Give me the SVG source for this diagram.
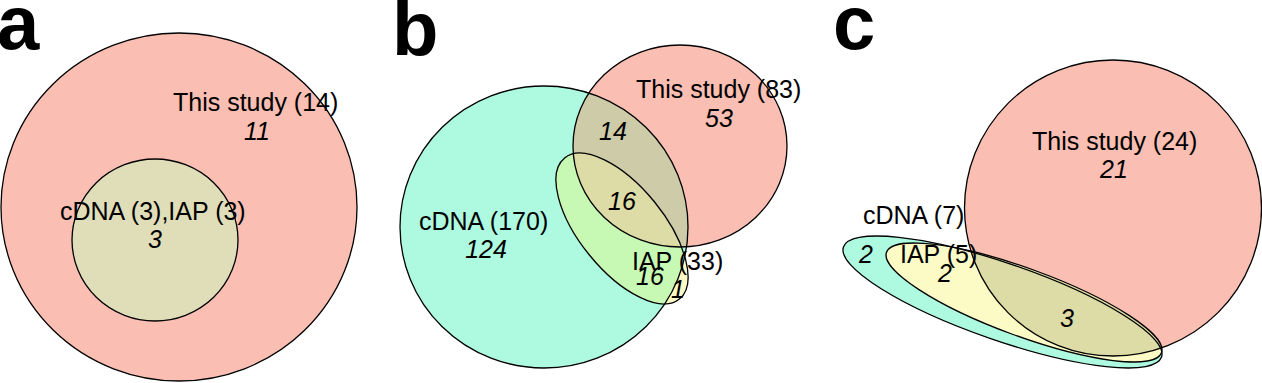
<svg xmlns="http://www.w3.org/2000/svg" width="1262" height="383" viewBox="0 0 1262 383">
<style>
  .lbl{font-family:"Liberation Sans",Arial,sans-serif;font-size:25px;fill:#000}
  .num{font-family:"Liberation Sans",Arial,sans-serif;font-size:25px;font-style:italic;fill:#000}
  .panel{font-family:"Liberation Sans",Arial,sans-serif;font-size:76px;font-weight:bold;fill:#000}
  .edge{fill:none;stroke:#000;stroke-width:1.3}
</style>
<defs>
  <clipPath id="cCyanB"><ellipse cx="544" cy="227" rx="144" ry="141"/></clipPath>
  <clipPath id="cPinkB"><ellipse cx="680" cy="146" rx="107" ry="101"/></clipPath>
  <clipPath id="cIapB"><ellipse cx="622" cy="228.5" rx="91" ry="42" transform="rotate(50.9 622 228.5)"/></clipPath>
  <clipPath id="cPinkC"><ellipse cx="1113" cy="208" rx="148.5" ry="148"/></clipPath>
  <clipPath id="cCyanC"><ellipse cx="1002.5" cy="302" rx="168.3" ry="38.5" transform="rotate(19.1 1002.5 302)"/></clipPath>
  <clipPath id="cYelC"><ellipse cx="1024" cy="302.5" rx="146.4" ry="33.8" transform="rotate(20.1 1024 302.5)"/></clipPath>
</defs>
<rect width="1262" height="383" fill="#fff"/>

<!-- Panel a -->
<g id="panel-a">
  <text class="panel" x="-3" y="49">a</text>
  <g id="a-study">
    <ellipse cx="179" cy="207" rx="178" ry="174" fill="#FABEB2" class="edge" style="fill:#FABEB2"/>
  </g>
  <g id="a-cdna-iap">
    <ellipse cx="155" cy="240" rx="83" ry="81" style="fill:#DFDEB8;stroke:#000;stroke-width:1.3"/>
  </g>
  <text class="lbl" x="173" y="111">This study (14)</text>
  <text class="num" x="257" y="140" text-anchor="middle">11</text>
  <text class="lbl" x="60" y="220">cDNA (3),IAP (3)</text>
  <text class="num" x="155" y="248" text-anchor="middle">3</text>
</g>

<!-- Panel b -->
<g id="panel-b">
  <text class="panel" x="392" y="55">b</text>
  <g id="b-fills">
    <ellipse cx="544" cy="227" rx="144" ry="141" fill="#AEFAE0"/>
    <ellipse cx="680" cy="146" rx="107" ry="101" fill="#FABEB2"/>
    <ellipse cx="622" cy="228.5" rx="91" ry="42" transform="rotate(50.9 622 228.5)" fill="#FCFAC4"/>
    <g clip-path="url(#cCyanB)">
      <ellipse cx="680" cy="146" rx="107" ry="101" fill="#CDCBA8"/>
      <ellipse cx="622" cy="228.5" rx="91" ry="42" transform="rotate(50.9 622 228.5)" fill="#C8F9B4"/>
    </g>
    <g clip-path="url(#cPinkB)">
      <ellipse cx="622" cy="228.5" rx="91" ry="42" transform="rotate(50.9 622 228.5)" fill="#F4DDB8"/>
    </g>
    <g clip-path="url(#cCyanB)">
      <g clip-path="url(#cPinkB)">
        <ellipse cx="622" cy="228.5" rx="91" ry="42" transform="rotate(50.9 622 228.5)" fill="#DDDBA6"/>
      </g>
    </g>
  </g>
  <g id="b-cdna"><ellipse class="edge" cx="544" cy="227" rx="144" ry="141"/></g>
  <g id="b-study"><ellipse class="edge" cx="680" cy="146" rx="107" ry="101"/></g>
  <g id="b-iap"><ellipse class="edge" cx="622" cy="228.5" rx="91" ry="42" transform="rotate(50.9 622 228.5)"/></g>
  <text class="lbl" x="636" y="98">This study (83)</text>
  <text class="num" x="719" y="127" text-anchor="middle">53</text>
  <text class="num" x="613" y="140" text-anchor="middle">14</text>
  <text class="num" x="622" y="210" text-anchor="middle">16</text>
  <text class="lbl" x="419" y="230">cDNA (170)</text>
  <text class="num" x="486" y="258" text-anchor="middle">124</text>
  <text class="lbl" x="632" y="270">IAP (33)</text>
  <text class="num" x="650" y="285" text-anchor="middle">16</text>
  <text class="num" x="678" y="298" text-anchor="middle">1</text>
</g>

<!-- Panel c -->
<g id="panel-c">
  <text class="panel" x="833" y="49">c</text>
  <g id="c-fills">
    <ellipse cx="1113" cy="208" rx="148.5" ry="148" fill="#FABEB2"/>
    <ellipse cx="1002.5" cy="302" rx="168.3" ry="38.5" transform="rotate(19.1 1002.5 302)" fill="#AEFAE0"/>
    <ellipse cx="1024" cy="302.5" rx="146.4" ry="33.8" transform="rotate(20.1 1024 302.5)" fill="#FCFBC6"/>
    <g clip-path="url(#cPinkC)">
      <ellipse cx="1002.5" cy="302" rx="168.3" ry="38.5" transform="rotate(19.1 1002.5 302)" fill="#CDCBA8"/>
      <ellipse cx="1024" cy="302.5" rx="146.4" ry="33.8" transform="rotate(20.1 1024 302.5)" fill="#DDDBA6"/>
    </g>
  </g>
  <g id="c-study"><ellipse class="edge" cx="1113" cy="208" rx="148.5" ry="148"/></g>
  <g id="c-cdna"><ellipse class="edge" cx="1002.5" cy="302" rx="168.3" ry="38.5" transform="rotate(19.1 1002.5 302)"/></g>
  <g id="c-iap"><ellipse class="edge" cx="1024" cy="302.5" rx="146.4" ry="33.8" transform="rotate(20.1 1024 302.5)"/></g>
  <text class="lbl" x="1032" y="150">This study (24)</text>
  <text class="num" x="1114" y="178" text-anchor="middle">21</text>
  <text class="lbl" x="863" y="224">cDNA (7)</text>
  <text class="num" x="866" y="263" text-anchor="middle">2</text>
  <text class="lbl" x="900" y="263">IAP (5)</text>
  <text class="num" x="945" y="282" text-anchor="middle">2</text>
  <text class="num" x="1067" y="327" text-anchor="middle">3</text>
</g>
</svg>
